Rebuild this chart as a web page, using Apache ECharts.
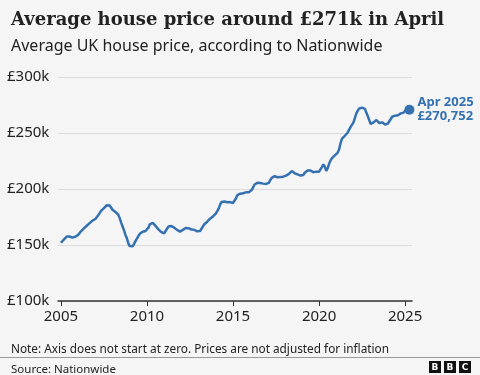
<!DOCTYPE html>
<html>
<head>
<meta charset="utf-8">
<script src="https://cdn.jsdelivr.net/npm/echarts@6/dist/echarts.min.js"></script>
<style>
  html, body { margin: 0; padding: 0; background: #f5f5f5; }
  #chart { width: 480px; height: 375px; }
</style>
</head>
<body>
<div id="chart"></div>
<script>
// Average UK house price (Nationwide), £ thousands, monthly from Jan 2005
const startYear = 2005;
const prices = [
  // 2005
  152.0, 153.2, 154.8, 156.3, 157.5, 158.2, 157.6, 156.9, 156.6, 156.9, 157.4, 158.1,
  // 2006
  159.0, 160.5, 162.2, 163.8, 164.8, 166.0, 167.2, 168.5, 169.5, 170.6, 171.8, 172.5,
  // 2007
  173.2, 174.5, 176.5, 178.5, 180.5, 181.6, 183.0, 184.3, 185.5, 186.0, 185.3, 184.6,
  // 2008
  181.5, 180.0, 179.5, 178.8, 177.0, 174.0, 170.0, 166.5, 163.0, 159.0, 156.0, 151.5,
  // 2009
  149.0, 147.6, 148.8, 151.0, 153.5, 155.8, 158.0, 160.0, 161.0, 161.8, 162.0, 162.5,
  // 2010
  162.0, 165.5, 168.5, 170.2, 169.8, 168.5, 167.0, 165.5, 164.0, 162.5, 161.5, 160.8,
  // 2011
  160.5, 162.0, 164.5, 166.5, 167.8, 167.0, 166.0, 165.5, 164.8, 163.5, 162.3, 162.0,
  // 2012
  162.0, 163.5, 164.5, 165.2, 165.8, 165.0, 164.2, 163.8, 164.0, 163.5, 162.8, 162.2,
  // 2013
  161.8, 162.5, 164.5, 166.5, 168.5, 169.5, 170.8, 172.3, 173.5, 174.5, 175.5, 177.0,
  // 2014
  178.0, 179.5, 182.5, 186.0, 188.5, 189.0, 188.8, 188.5, 188.2, 188.0, 188.3, 188.0,
  // 2015
  187.5, 188.5, 191.5, 194.5, 195.5, 195.8, 196.0, 196.2, 196.5, 197.0, 196.8, 197.0,
  // 2016
  197.0, 199.0, 201.5, 204.0, 205.1, 205.5, 205.5, 205.3, 205.0, 204.8, 204.5, 204.5,
  // 2017
  204.5, 205.5, 208.0, 210.0, 211.0, 211.5, 211.0, 210.5, 211.0, 210.8, 210.4, 211.0,
  // 2018
  211.0, 212.0, 213.0, 213.5, 214.5, 216.0, 215.0, 214.0, 213.5, 213.0, 212.5, 212.0,
  // 2019
  211.6, 212.5, 214.5, 215.5, 216.5, 217.0, 216.5, 215.5, 215.0, 215.3, 215.5, 215.8,
  // 2020
  215.5, 217.0, 219.5, 222.0, 220.0, 216.1, 218.5, 222.5, 225.5, 227.5, 228.5, 230.0,
  // 2021
  231.0, 232.5, 235.5, 241.0, 245.0, 246.5, 247.5, 248.8, 250.5, 253.0, 255.5, 256.5,
  // 2022
  259.5, 263.5, 267.6, 270.0, 272.0, 272.4, 272.6, 273.0, 271.5, 268.0, 265.0, 261.5,
  // 2023
  258.0, 257.1, 259.5, 261.0, 261.6, 260.0, 258.8, 258.6, 259.5, 258.5, 257.5, 257.1,
  // 2024
  258.5, 260.5, 262.5, 264.5, 264.8, 265.5, 266.0, 265.8, 266.5, 267.5, 268.5, 268.2,
  // 2025
  270.0, 271.5, 270.0, 270.752
];
const xTicks = [2005, 2010, 2015, 2020, 2025];
const lastLabel = ['Apr 2025', '£270,752'];

const blue = '#3571b0';
const seriesData = prices.map((v, i) => [startYear + i / 12, v]);
const last = seriesData[seriesData.length - 1];

const chart = echarts.init(document.getElementById('chart'));
chart.setOption({
  backgroundColor: '#f5f5f5',
  animation: false,
  textStyle: { fontFamily: 'Noto Sans' },
  title: [
    {
      text: 'Average house price around £271k in April',
      left: 6, top: 6,
      textStyle: { fontFamily: 'DejaVu Serif', fontWeight: 'bold', fontSize: 18, color: '#222' }
    },
    {
      text: 'Average UK house price, according to Nationwide',
      left: 6, top: 33,
      textStyle: { fontFamily: 'Noto Sans', fontWeight: 'normal', fontSize: 16, color: '#222' }
    },
    {
      text: 'Note: Axis does not start at zero. Prices are not adjusted for inflation',
      left: 6, top: 339,
      textStyle: { fontFamily: 'Noto Sans', fontWeight: 'normal', fontSize: 11.8, color: '#222' }
    },
    {
      text: 'Source: Nationwide',
      left: 6, top: 359,
      textStyle: { fontFamily: 'Noto Sans', fontWeight: 'normal', fontSize: 11.5, color: '#222' }
    }
  ],
  graphic: [
    { type: 'line', shape: { x1: 0, y1: 357.5, x2: 480, y2: 357.5 }, style: { stroke: '#999', lineWidth: 1 } },
    ...['B', 'B', 'C'].map((ch, i) => ({
      type: 'group', left: 429 + i * 15, top: 361,
      children: [
        { type: 'rect', shape: { x: 0, y: 0, width: 12, height: 12 }, style: { fill: '#111' } },
        { type: 'text', x: 6, y: 6.5, style: { text: ch, fill: '#fff', font: 'bold 9px "DejaVu Sans"', align: 'center', verticalAlign: 'middle' } }
      ]
    }))
  ],
  grid: { left: 58, right: 68, top: 77, bottom: 74, containLabel: false },
  xAxis: {
    type: 'value',
    min: 2004.83,
    max: 2025.4,
    axisLine: { show: true, lineStyle: { color: '#333', width: 1.5 } },
    axisTick: { show: true, length: 5, lineStyle: { color: '#333' }, customValues: xTicks },
    axisLabel: { customValues: xTicks, color: '#222', fontSize: 15, margin: 8, formatter: v => String(v) },
    splitLine: { show: false }
  },
  yAxis: {
    type: 'value',
    min: 100, max: 300, interval: 50,
    axisLine: { show: false },
    axisTick: { show: false },
    axisLabel: { color: '#222', fontSize: 15, align: 'left', margin: 51, formatter: v => '£' + v + 'k' },
    splitLine: { lineStyle: { color: '#dcdcdc', width: 1 } }
  },
  series: [
    {
      type: 'line',
      data: seriesData,
      showSymbol: false,
      lineStyle: { color: blue, width: 2.5 },
      z: 3
    },
    {
      type: 'scatter',
      data: [last],
      symbolSize: 10,
      itemStyle: { color: blue, opacity: 1 },
      label: {
        show: true, position: 'right', distance: 3,
        formatter: lastLabel.join('\n'),
        color: blue, fontWeight: 'bold', fontSize: 13, lineHeight: 14
      },
      z: 4
    }
  ]
});
</script>
</body>
</html>
